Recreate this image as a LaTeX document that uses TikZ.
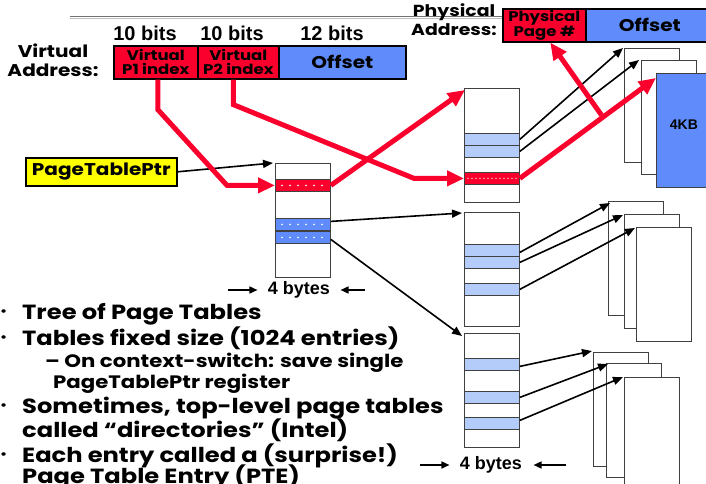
\documentclass[tikz,border=0pt]{standalone}
\usepackage{fontspec}
\setmainfont{Poppins}[FakeStretch=1.18]
\newfontfamily\arialfont{Liberation Sans}
\usetikzlibrary{arrows.meta,calc}
\definecolor{ptred}{RGB}{250,0,45}
\definecolor{ptblue}{RGB}{95,140,250}
\definecolor{ptlight}{RGB}{180,204,250}
\definecolor{ptyellow}{RGB}{255,255,0}
\newcommand{\sz}[2]{\fontsize{#1}{#2}\selectfont}

\begin{document}
\begin{tikzpicture}[
  x=1pt, y=-1pt,
  field/.style={draw, line width=1.6pt, minimum height=33pt, inner sep=0pt, anchor=north west, align=center},
  tbl/.style={draw=black!75, line width=0.8pt, fill=white, minimum width=55pt, minimum height=114pt, inner sep=0pt, anchor=north west},
  pg/.style={tbl},
  entry/.style={draw=black!75, line width=0.8pt, minimum width=55pt, minimum height=12pt, inner sep=0pt, anchor=north west},
  pte/.style={entry, fill=ptlight},
  dir/.style={entry, fill=ptblue},
  hit/.style={entry, fill=ptred},
  bits/.style={font=\arialfont\bfseries\sz{20}{20}},
  bytes/.style={font=\arialfont\bfseries\sz{18}{18}},
  lbl/.style={align=center, font=\bfseries\sz{17}{19}},
  bul/.style={anchor=base west, inner sep=0pt, font=\bfseries\sz{20.5}{20.5}},
  sub/.style={anchor=base west, inner sep=0pt, font=\bfseries\sz{18}{18}},
  ptr/.style={line width=1.6pt, -{Triangle[length=10pt,width=8pt]}},
  span/.style={line width=1.6pt, -{Triangle[length=8pt,width=7pt]}},
  hot/.style={ptred, line width=5pt, -{Triangle[length=17pt,width=15pt]}}
]
\clip (0,0) rectangle (706,484);

% virtual address
\draw[black!55, line width=1.2pt] (70,16.5) -- (502,16.5);
\draw[black!25, line width=1pt] (70,18.8) -- (502,18.8);
\node[bits] (bits1) at (145,33) {10 bits};
\node[bits] (bits2) at (232,33) {10 bits};
\node[bits] (bits3) at (332,33) {12 bits};
\node[lbl] (vlbl) at (53,60) {Virtual\\Address:};
\node[field, fill=ptred, minimum width=84pt, font=\bfseries\sz{14}{14}] (p1) at (113,45) {Virtual\\P1 index};
\node[field, fill=ptred, minimum width=81pt, font=\bfseries\sz{14}{14}] (p2) at (197,45) {Virtual\\P2 index};
\node[field, fill=ptblue, minimum width=127pt, font=\bfseries\sz{17}{17}] (voff) at (278,45) {Offset};

% physical address
\node[lbl, font=\bfseries\sz{16}{19}] (plbl) at (454,20) {Physical\\Address:};
\node[field, fill=ptred, minimum width=83pt, font=\bfseries\sz{14}{14}] (ppn) at (502,8) {Physical\\Page \#};
\node[field, fill=ptblue, minimum width=140pt, font=\bfseries\sz{17}{17}] (poff) at (585,8) {\hspace*{-12pt}Offset};

% page table pointer
\node[draw, line width=1.6pt, fill=ptyellow, minimum width=151pt, minimum height=28pt, inner sep=0pt, anchor=north west, font=\bfseries\sz{17}{17}] (tblptr) at (25,157) {PageTablePtr};

% level 1
\node[tbl] (l1) at (275,163) {};
\node[hit] (l1red) at (275,179) {};
\node[dir] (l1b1) at (275,218) {};
\node[dir] (l1b2) at (275,231) {};
\foreach \e in {l1red,l1b1,l1b2}
  \foreach \k in {1,...,6}
    \fill[white] ($(\e.west)+(\k*8-1,0)$) circle (0.9);
\node[bytes] (bytes1) at (299,290) {4 bytes};
\draw[span] ([xshift=-36pt]bytes1.west) -- ([xshift=-7pt]bytes1.west);
\draw[span] ([xshift=31pt]bytes1.east) -- ([xshift=7pt]bytes1.east);

% level 2
\node[tbl] (l2a) at (464,88) {};
\node[pte] (l2a1) at (464,133) {};
\node[pte] (l2a2) at (464,145) {};
\node[hit] (l2ared) at (464,172) {};
\foreach \k in {1,...,13}
  \fill[white!80!ptred] ($(l2ared.west)+(\k*4,0)$) circle (0.8);

\node[tbl] (l2b) at (464,212) {};
\node[pte] (l2b1) at (464,244) {};
\node[pte] (l2b2) at (464,256) {};
\node[pte] (l2b3) at (464,283) {};

\node[tbl] (l2c) at (464,333) {};
\node[pte] (l2c1) at (464,358) {};
\node[pte] (l2c2) at (464,391) {};
\node[pte] (l2c3) at (464,417) {};
\node[bytes] (bytes2) at (491,465) {4 bytes};
\draw[span] ([xshift=-36pt]bytes2.west) -- ([xshift=-7pt]bytes2.west);
\draw[span] ([xshift=40pt]bytes2.east) -- ([xshift=8pt]bytes2.east);

% pages
\node[pg] (pg1a) at (624,48) {};
\node[pg] (pg1b) at (641,60) {};
\node[pg, fill=ptblue, font=\arialfont\bfseries\sz{14}{14}] (pg1c) at (656,73) {\raisebox{12pt}{4KB}};
\node[pg] (pg2a) at (608,201) {};
\node[pg] (pg2b) at (624,214) {};
\node[pg] (pg2c) at (636,227) {};
\node[pg] (pg3a) at (593,352) {};
\node[pg] (pg3b) at (606,363) {};
\node[pg] (pg3c) at (624,377) {};

% black pointers
\draw[ptr] (tblptr.east) -- ([xshift=-2pt]l1.north west);
\draw[ptr] ([yshift=3pt]l1b1.east) -- ([xshift=-2pt,yshift=-1pt]l2b.north west);
\draw[ptr] ([yshift=-2pt]l1b2.east) -- ([xshift=-2pt,yshift=-3pt]l2c.north west);
\draw[ptr] (l2a1.east) -- ([xshift=-1pt]pg1a.north west);
\draw[ptr] (l2a2.east) -- ([xshift=-2pt]pg1b.north west);
\draw[ptr] ([yshift=-2pt]l2b1.east) -- ([xshift=2pt,yshift=-2pt]pg2a.north west);
\draw[ptr] (l2b2.east) -- ([xshift=-1pt,yshift=-1pt]pg2b.north west);
\draw[ptr] (l2b3.east) -- ([xshift=-1pt,yshift=-1pt]pg2c.north west);
\draw[ptr] ([yshift=-2pt]l2c1.east) -- ([xshift=-1pt,yshift=1pt]pg3a.north west);
\draw[ptr] (l2c2.east) -- ([xshift=2pt,yshift=-1pt]pg3b.north west);
\draw[ptr] ([yshift=3pt]l2c3.east) -- ([xshift=-1pt]pg3c.north west);

% red walk
\draw[hot] ([xshift=2pt]p1.south) -- ++(0,30) -- ([xshift=-48pt]l1red.west) -- (l1red.west);
\draw[hot] ([xshift=-5pt]p2.south) -- ++(0,25) -- ([xshift=-50pt]l2ared.west) -- (l2ared.west);
\draw[hot] (l1red.east) -- ([xshift=1pt,yshift=-2pt]l2a.north west);
\draw[hot] (l2ared.east) -- ([yshift=-5pt]pg1c.north west);
\draw[hot] ($(l2ared.east)!0.6!(pg1c.north west)$) -- ([xshift=6pt]ppn.south);

% notes
\node[bul, font=\bfseries\sz{12}{12}] (dot1) at (0,315) {\textbullet};
\node[bul] (itm1) at (22,319) {Tree of Page Tables};
\node[bul, font=\bfseries\sz{12}{12}] (dot2) at (0,341) {\textbullet};
\node[bul] (itm2) at (22,345) {Tables fixed size (1024 entries)};
\node[sub] (itm3) at (45,367) {– On context-switch: save single};
\node[sub] (itm4) at (53,388) {PageTablePtr register};
\node[bul, font=\bfseries\sz{12}{12}] (dot3) at (0,409) {\textbullet};
\node[bul] (itm5) at (22,413) {Sometimes, top-level page tables};
\node[bul] (itm6) at (22,437) {called “directories” (Intel)};
\node[bul, font=\bfseries\sz{12}{12}] (dot4) at (0,458) {\textbullet};
\node[bul] (itm7) at (22,462) {Each entry called a (surprise!)};
\node[bul] (itm8) at (22,483) {Page Table Entry (PTE)};
\end{tikzpicture}
\end{document}
